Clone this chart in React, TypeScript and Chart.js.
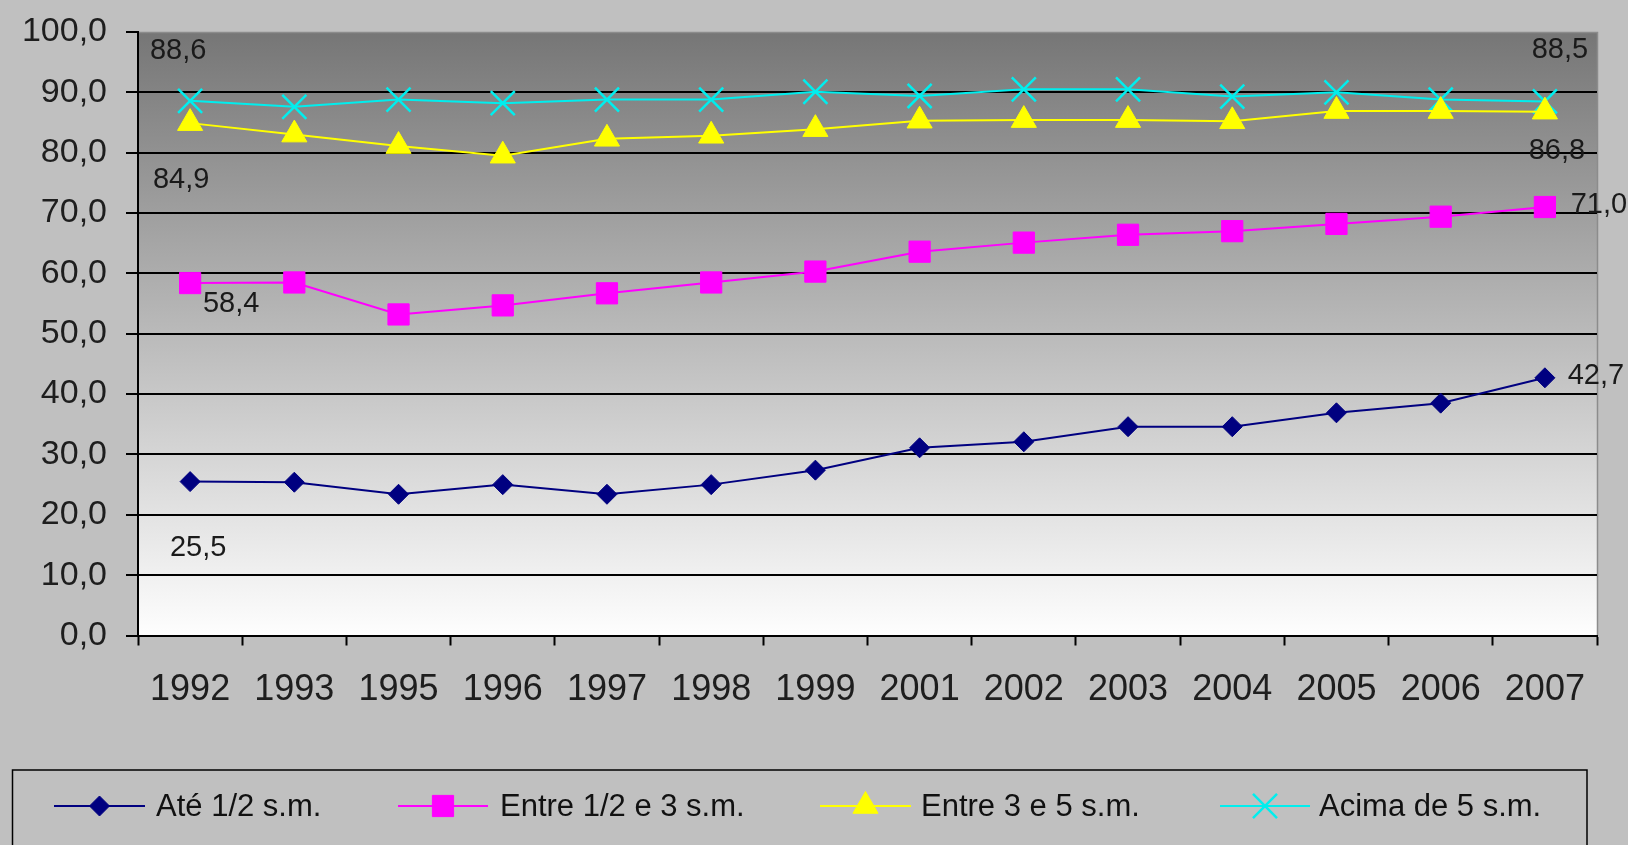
import React, { useEffect, useRef } from 'react';
import { Chart, registerables } from 'chart.js';

Chart.register(...registerables);

// Share of each income bracket, by survey year (%)
const years = ['1992', '1993', '1995', '1996', '1997', '1998', '1999', '2001', '2002', '2003', '2004', '2005', '2006', '2007'];
const ate12 = [25.5, 25.4, 23.4, 25.0, 23.4, 25.0, 27.4, 31.1, 32.1, 34.6, 34.6, 36.9, 38.5, 42.7];
const entre12e3 = [58.4, 58.5, 53.2, 54.7, 56.7, 58.5, 60.3, 63.6, 65.1, 66.4, 67.0, 68.2, 69.4, 71.0];
const entre3e5 = [84.9, 83.0, 81.1, 79.5, 82.3, 82.8, 83.9, 85.3, 85.4, 85.4, 85.2, 86.9, 86.9, 86.8];
const acima5 = [88.6, 87.6, 88.8, 88.2, 88.8, 88.8, 90.1, 89.4, 90.5, 90.5, 89.3, 90.0, 88.8, 88.5];
const seriesNames = ['Até 1/2 s.m.', 'Entre 1/2 e 3 s.m.', 'Entre 3 e 5 s.m.', 'Acima de 5 s.m.'];
const yMin = 0;
const yMax = 100;
const yStep = 10;

const W = 1628;
const H = 845;
const FONT = '"Liberation Sans", Arial, sans-serif';

const fmt = (v: number) => v.toFixed(1).replace('.', ',');

type Style = { color: string; point: string; radius: number; bw: number };
const styles: Style[] = [
  { color: '#000080', point: 'rectRot', radius: 10, bw: 1 },
  { color: '#ff00ff', point: 'rect', radius: 15, bw: 1 },
  { color: '#ffff00', point: 'triangle', radius: 14.5, bw: 1 },
  { color: '#00eeee', point: 'crossRot', radius: 17, bw: 2.5 },
];

// value labels on the first and last points: dataset, index, pixel offset
const valueLabels = [
  { ds: 3, i: 0, dx: -12, dy: -50 },
  { ds: 2, i: 0, dx: -9, dy: 57 },
  { ds: 1, i: 0, dx: 41, dy: 21 },
  { ds: 0, i: 0, dx: 8, dy: 66 },
  { ds: 3, i: 13, dx: 15, dy: -51 },
  { ds: 2, i: 13, dx: 12, dy: 39 },
  { ds: 1, i: 13, dx: 54, dy: -2 },
  { ds: 0, i: 13, dx: 51, dy: -2 },
];

function drawMarker(ctx: CanvasRenderingContext2D, s: Style, x: number, y: number) {
  ctx.save();
  ctx.fillStyle = s.color;
  ctx.strokeStyle = s.color;
  ctx.lineWidth = s.bw;
  const r = s.radius;
  ctx.beginPath();
  if (s.point === 'rectRot') {
    ctx.moveTo(x, y - r);
    ctx.lineTo(x + r, y);
    ctx.lineTo(x, y + r);
    ctx.lineTo(x - r, y);
    ctx.closePath();
    ctx.fill();
    ctx.stroke();
  } else if (s.point === 'rect') {
    const h = r * Math.SQRT1_2;
    ctx.rect(x - h, y - h, 2 * h, 2 * h);
    ctx.fill();
    ctx.stroke();
  } else if (s.point === 'triangle') {
    ctx.moveTo(x, y - r);
    ctx.lineTo(x + r * Math.sin((2 * Math.PI) / 3), y - r * Math.cos((2 * Math.PI) / 3));
    ctx.lineTo(x + r * Math.sin((4 * Math.PI) / 3), y - r * Math.cos((4 * Math.PI) / 3));
    ctx.closePath();
    ctx.fill();
    ctx.stroke();
  } else {
    const o = r * Math.SQRT1_2;
    ctx.moveTo(x - o, y - o);
    ctx.lineTo(x + o, y + o);
    ctx.moveTo(x + o, y - o);
    ctx.lineTo(x - o, y + o);
    ctx.stroke();
  }
  ctx.restore();
}

const backgroundPlugin = {
  id: 'panelBackground',
  beforeDraw(chart: any) {
    const { ctx, chartArea } = chart;
    const { left, top, right, bottom } = chartArea;
    ctx.save();
    ctx.fillStyle = '#c0c0c0';
    ctx.fillRect(0, 0, chart.width, chart.height);
    const g = ctx.createLinearGradient(0, top, 0, bottom);
    g.addColorStop(0, '#767676');
    g.addColorStop(1, '#fefefe');
    ctx.fillStyle = g;
    ctx.fillRect(left, top, right - left, bottom - top);
    ctx.strokeStyle = '#8c8c8c';
    ctx.lineWidth = 1.5;
    ctx.beginPath();
    ctx.moveTo(left, top + 0.5);
    ctx.lineTo(right + 0.5, top + 0.5);
    ctx.lineTo(right + 0.5, bottom);
    ctx.stroke();
    ctx.restore();
  },
};

const valueLabelPlugin = {
  id: 'valueLabels',
  afterDatasetsDraw(chart: any) {
    const { ctx } = chart;
    ctx.save();
    ctx.font = `29px ${FONT}`;
    ctx.fillStyle = '#1a1a1a';
    ctx.textAlign = 'center';
    ctx.textBaseline = 'middle';
    for (const l of valueLabels) {
      const pt = chart.getDatasetMeta(l.ds).data[l.i];
      const v = chart.data.datasets[l.ds].data[l.i] as number;
      ctx.fillText(fmt(v), pt.x + l.dx, pt.y + l.dy);
    }
    ctx.restore();
  },
};

// legend box along the bottom edge
const legendItems = [
  { x0: 54, x1: 145, tx: 156 },
  { x0: 398, x1: 488, tx: 500 },
  { x0: 820, x1: 911, tx: 921 },
  { x0: 1220, x1: 1310, tx: 1319 },
];

const legendPlugin = {
  id: 'bottomLegend',
  afterDraw(chart: any) {
    const { ctx } = chart;
    ctx.save();
    ctx.strokeStyle = '#000';
    ctx.lineWidth = 1.5;
    ctx.strokeRect(12.5, 770, 1574.5, 100);
    const y = 806;
    ctx.font = `31px ${FONT}`;
    ctx.fillStyle = '#111';
    ctx.textAlign = 'left';
    ctx.textBaseline = 'middle';
    legendItems.forEach((it, k) => {
      const s = styles[k];
      ctx.strokeStyle = s.color;
      ctx.lineWidth = 2;
      ctx.beginPath();
      ctx.moveTo(it.x0, y);
      ctx.lineTo(it.x1, y);
      ctx.stroke();
      drawMarker(ctx, s, (it.x0 + it.x1) / 2, y);
      ctx.fillStyle = '#111';
      ctx.fillText(seriesNames[k], it.tx, y + 1);
    });
    ctx.restore();
  },
};

export default function App() {
  const ref = useRef<HTMLCanvasElement | null>(null);

  useEffect(() => {
    if (!ref.current) return;
    const series = [ate12, entre12e3, entre3e5, acima5];
    const chart = new Chart(ref.current, {
      type: 'line',
      data: {
        labels: years,
        datasets: series.map((d, k) => ({
          label: seriesNames[k],
          data: d,
          borderColor: styles[k].color,
          backgroundColor: styles[k].color,
          borderWidth: 2,
          pointStyle: styles[k].point as any,
          pointRadius: styles[k].radius,
          pointBorderWidth: styles[k].bw,
          pointBackgroundColor: styles[k].color,
          pointBorderColor: styles[k].color,
          tension: 0,
          fill: false,
          clip: false as any,
        })),
      },
      options: {
        animation: false,
        responsive: false,
        devicePixelRatio: 1,
        events: [],
        layout: { padding: { top: 32, right: 31, bottom: 0, left: 0 } },
        plugins: {
          legend: { display: false },
          tooltip: { enabled: false },
          title: { display: false },
        },
        scales: {
          x: {
            type: 'category',
            offset: true,
            grid: {
              offset: true,
              drawOnChartArea: false,
              drawTicks: true,
              tickLength: 10,
              tickColor: '#000',
              tickWidth: 2,
            },
            border: { display: true, color: '#000', width: 2 },
            ticks: {
              autoSkip: false,
              maxRotation: 0,
              minRotation: 0,
              padding: 23,
              color: '#1e1e1e',
              font: { family: FONT, size: 36 },
            },
            afterFit: (scale: any) => {
              scale.height = H - 635.5;
              scale.paddingLeft = 0;
              scale.paddingRight = 0;
            },
          },
          y: {
            min: yMin,
            max: yMax,
            grid: {
              color: (c: any) => (c.tick && c.tick.value === yMax ? 'rgba(0,0,0,0)' : '#000'),
              lineWidth: 2,
              drawTicks: true,
              tickLength: 12,
              tickColor: '#000',
              tickWidth: 2,
            },
            border: { display: true, color: '#000', width: 2 },
            ticks: {
              stepSize: yStep,
              padding: 19,
              color: '#1e1e1e',
              font: { family: FONT, size: 34 },
              callback: (v: any) => fmt(Number(v)),
            },
            afterFit: (scale: any) => {
              scale.width = 138;
              scale.paddingTop = 0;
              scale.paddingBottom = 0;
            },
          },
        },
      },
      plugins: [backgroundPlugin, valueLabelPlugin, legendPlugin],
    });
    return () => chart.destroy();
  }, []);

  return (
    <div style={{ position: 'fixed', left: 0, top: 0, width: W, height: H, background: '#c0c0c0' }}>
      <canvas ref={ref} width={W} height={H} style={{ display: 'block', width: W, height: H }} />
    </div>
  );
}
